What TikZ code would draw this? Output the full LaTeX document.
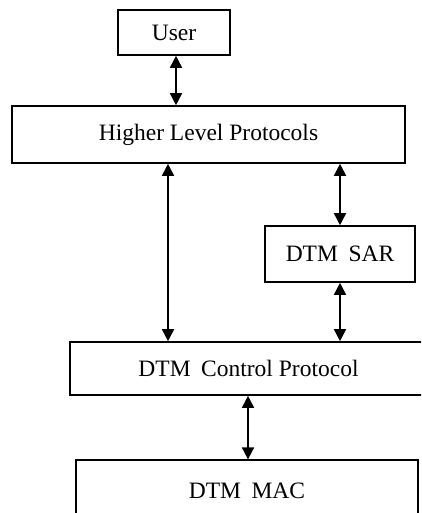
\documentclass[tikz,border=0pt]{standalone}
\usepackage{fontspec}
\setmainfont{Liberation Serif}
\usetikzlibrary{arrows.meta}
\begin{document}
\begin{tikzpicture}[x=1pt,y=-1pt,
  box/.style={draw=black, line width=1.6pt, rectangle, inner sep=0pt, font=\fontsize{23.5}{26}\selectfont},
  dbl/.style={line width=1.6pt, {Triangle[width=12pt,length=12pt]}-{Triangle[width=12pt,length=12pt]}}]
\useasboundingbox (0,0) rectangle (421,513);
\clip (0,0) rectangle (421,513);
\node[box, minimum width=112pt, minimum height=45pt] (user) at (174,32.5) {User};
\node[box, minimum width=393pt, minimum height=57pt] (hlp) at (208.5,134.5) {Higher Level Protocols};
\node[box, minimum width=150pt, minimum height=56pt] (sar) at (340,254) {DTM\hspace{0.45em}SAR};
\node[box, minimum width=357pt, minimum height=53pt] (ctl) at (248.5,368.5) {DTM\hspace{0.45em}Control Protocol};
\node[box, line width=1.2pt, minimum width=342pt, minimum height=62pt] (mac) at (247,491) {DTM\hspace{0.45em}MAC};
\coordinate (xu) at (176,0);
\coordinate (xl) at (168,0);
\coordinate (xm) at (248,0);
\draw[dbl] (xu |- user.south) -- (xu |- hlp.north);
\draw[dbl] (xl |- hlp.south) -- (xl |- ctl.north);
\draw[dbl] (sar.north |- hlp.south) -- (sar.north);
\draw[dbl] (sar.south) -- (sar.south |- ctl.north);
\draw[dbl] (xm |- ctl.south) -- (xm |- mac.north);
\end{tikzpicture}
\end{document}
